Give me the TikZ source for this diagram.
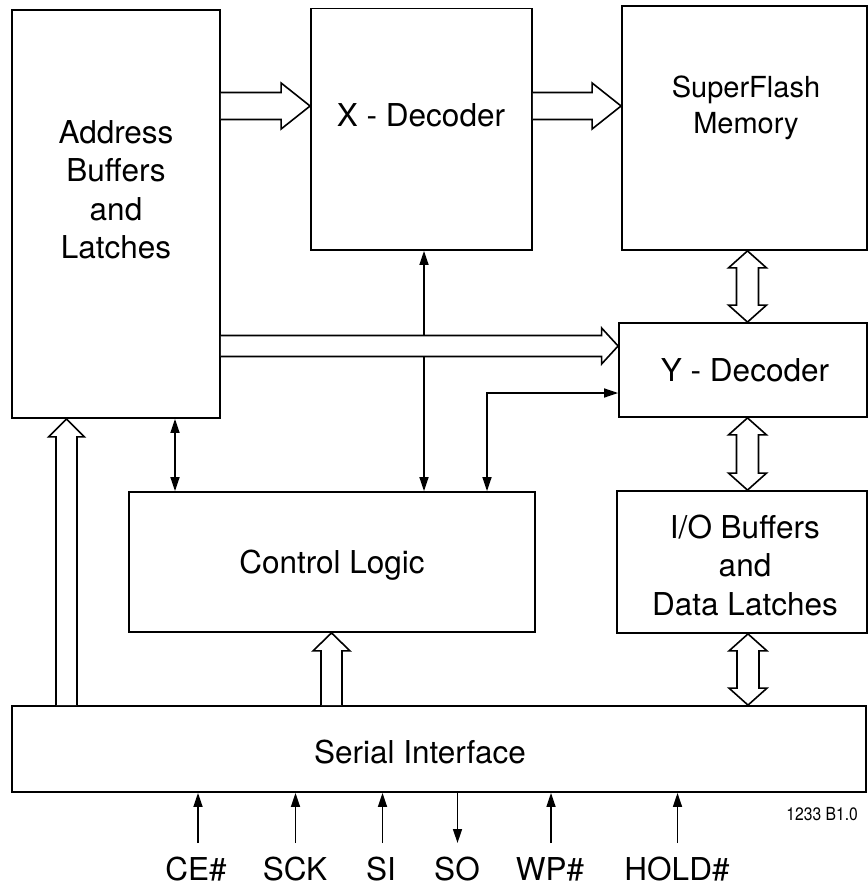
\documentclass[tikz,border=0pt]{standalone}
\usepackage{fontspec}
\usepackage{graphicx}
\setmainfont{TeX Gyre Heros}
\usetikzlibrary{calc,arrows.meta}
\tikzset{
  blk/.style={draw=black, line width=1.8bp, inner sep=0pt, minimum width=#1},
  lbl/.style={inner sep=0pt, align=center, font=\fontsize{31.5bp}{38.5bp}\selectfont},
  tarr/.style={draw=black, line width=1.6bp, {Triangle[length=14bp,width=9bp]}-{Triangle[length=14bp,width=9bp]}},
  sarr/.style={draw=black, line width=1.6bp, -{Triangle[length=14bp,width=9bp]}},
  fat/.style={draw=black, fill=white, line width=1.6bp, line join=miter}
}
% horizontal fat arrow pointing right: start, tip, shaft half, head half, head length
\newcommand{\fatR}[5]{\draw[fat] ($(#1)+(0,#3)$) -- ($(#2)+(-#5,#3)$) -- ($(#2)+(-#5,#4)$) -- (#2) -- ($(#2)+(-#5,-#4)$) -- ($(#2)+(-#5,-#3)$) -- ($(#1)+(0,-#3)$);}
% vertical fat arrow pointing up
\newcommand{\fatU}[5]{\draw[fat] ($(#1)+(-#3,0)$) -- ($(#2)+(-#3,#5)$) -- ($(#2)+(-#4,#5)$) -- (#2) -- ($(#2)+(#4,#5)$) -- ($(#2)+(#3,#5)$) -- ($(#1)+(#3,0)$);}
% vertical double fat arrow: top tip, bottom tip
\newcommand{\fatUD}[5]{\draw[fat] (#1) -- ($(#1)+(#4,#5)$) -- ($(#1)+(#3,#5)$) -- ($(#2)+(#3,-#5)$) -- ($(#2)+(#4,-#5)$) -- (#2) -- ($(#2)+(-#4,-#5)$) -- ($(#2)+(-#3,-#5)$) -- ($(#1)+(-#3,#5)$) -- ($(#1)+(-#4,#5)$) -- cycle;}
\begin{document}
\begin{tikzpicture}[x=1bp,y=-1bp]
\useasboundingbox (0,0) rectangle (868,888);
% boxes
\node[blk=208bp, minimum height=408bp] (addr) at (116,214) {};
\node[blk=221bp, minimum height=241.5bp] (xdec) at (421.5,129.25) {};
\node[blk=245bp, minimum height=244bp] (sf) at (744.5,128) {};
\node[blk=248bp, minimum height=94bp] (ydec) at (743,370) {};
\node[blk=250bp, minimum height=142bp] (io) at (742,562) {};
\node[blk=406bp, minimum height=140bp] (ctrl) at (332,562) {};
\node[blk=854bp, minimum height=86bp] (serial) at (439,749) {};
% texts
\node[lbl] (addrT) at (116,190) {Address\\Buffers\\and\\Latches};
\node[lbl] (xdecT) at (421,115.5) {X - Decoder};
\node[lbl, font=\fontsize{29bp}{36bp}\selectfont] (sfT) at (746,108) {SuperFlash\\Memory};
\node[lbl] (ydecT) at (745,370) {Y - Decoder};
\node[lbl] (ioT) at (745,565) {I/O Buffers\\and\\Data Latches};
\node[lbl] (ctrlT) at (332,565) {Control Logic};
\node[lbl] (serialT) at (420,752) {Serial Interface};
% thin connectors
\draw[tarr] (addr.south -| 175,0) -- (ctrl.north -| 175,0);
\draw[tarr] (xdec.south -| 424,0) -- (ctrl.north -| 424,0);
\draw[tarr] (ctrl.north -| 487,0) |- (ydec.west |- 0,393);
% fat connectors
\coordinate (a1s) at (addr.east |- 0,106);
\coordinate (a1t) at (xdec.west |- 0,106);
\fatR{a1s}{a1t}{13.5}{23}{29}
\coordinate (a2s) at (xdec.east |- 0,106);
\coordinate (a2t) at (sf.west |- 0,106);
\fatR{a2s}{a2t}{13.5}{23}{29}
\coordinate (a3s) at (addr.east |- 0,346);
\coordinate (a3t) at (ydec.west |- 0,346);
\fatR{a3s}{a3t}{10.5}{18}{16.5}
\coordinate (a4s) at (serial.north -| 66.5,0);
\coordinate (a4t) at (addr.south -| 66.5,0);
\fatU{a4s}{a4t}{10.5}{18}{18}
\coordinate (a5s) at (serial.north -| 331.5,0);
\coordinate (a5t) at (ctrl.south -| 331.5,0);
\fatU{a5s}{a5t}{10.5}{18.5}{18}
\coordinate (d1a) at (sf.south -| 747.5,0);
\coordinate (d1b) at (ydec.north -| 747.5,0);
\fatUD{d1a}{d1b}{11}{19}{17}
\coordinate (d2a) at (ydec.south -| 747.5,0);
\coordinate (d2b) at (io.north -| 747.5,0);
\fatUD{d2a}{d2b}{11}{19}{17}
\coordinate (d3a) at (io.south -| 748,0);
\coordinate (d3b) at (serial.north -| 748,0);
\fatUD{d3a}{d3b}{11}{19}{17}
% pins
\coordinate (pCE) at (198,843);
\coordinate (pSCK) at (295.5,843);
\coordinate (pSI) at (382.5,843);
\coordinate (pSO) at (457.5,843);
\coordinate (pWP) at (551,843);
\coordinate (pHOLD) at (677.5,843);
\draw[sarr] (pCE) -- (serial.south -| pCE);
\draw[sarr] (pSCK) -- (serial.south -| pSCK);
\draw[sarr] (pSI) -- (serial.south -| pSI);
\draw[sarr] (serial.south -| pSO) -- (pSO);
\draw[sarr] (pWP) -- (serial.south -| pWP);
\draw[sarr] (pHOLD) -- (serial.south -| pHOLD);
\node[lbl, anchor=base] (lCE) at (196,880) {CE\#};
\node[lbl, anchor=base] (lSCK) at (295,880) {SCK};
\node[lbl, anchor=base] (lSI) at (381,880) {SI};
\node[lbl, anchor=base] (lSO) at (457,880) {SO};
\node[lbl, anchor=base] (lWP) at (550,880) {WP\#};
\node[lbl, anchor=base] (lHOLD) at (677,880) {HOLD\#};
\node[inner sep=0pt, anchor=base east] (code) at (858,820) {\scalebox{0.87}[1]{\fontsize{18bp}{20bp}\selectfont 1233 B1.0}};
\end{tikzpicture}
\end{document}
